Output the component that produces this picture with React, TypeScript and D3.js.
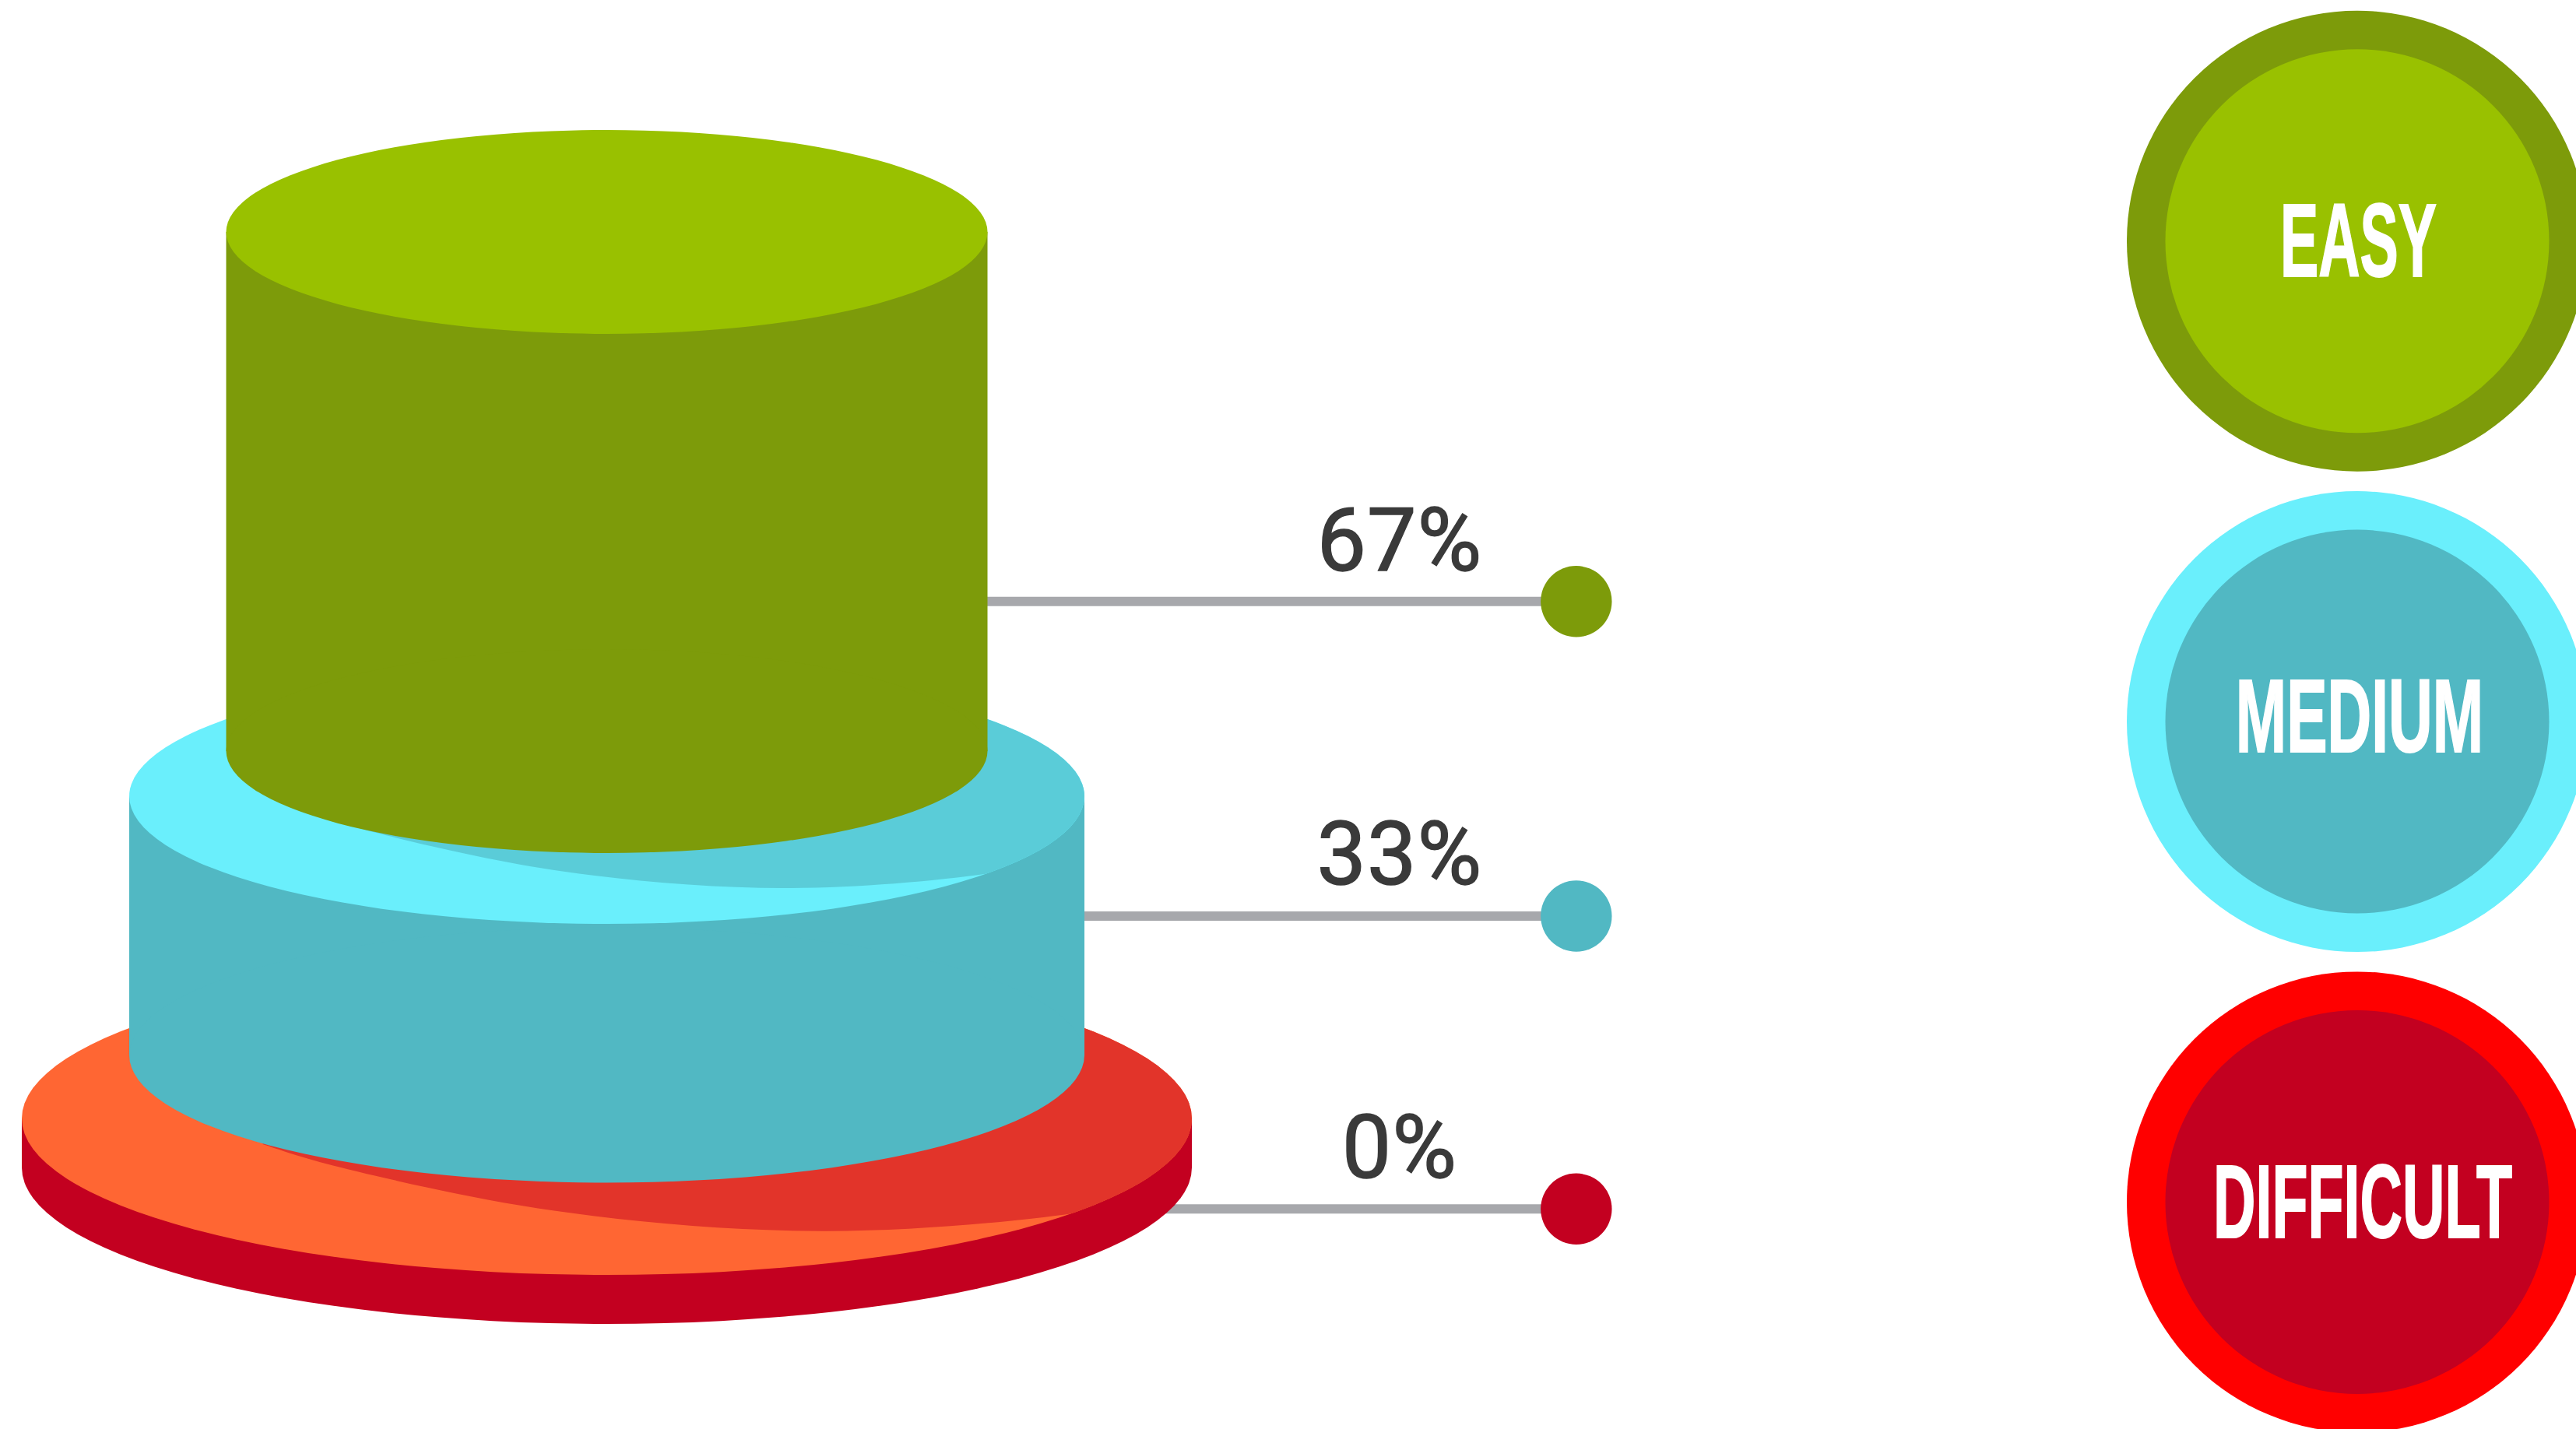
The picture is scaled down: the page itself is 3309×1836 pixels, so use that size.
import React, { useEffect, useRef } from 'react';
import * as d3 from 'd3';

// bottom tier first, the way the stack is painted
const levels = ['Difficult', 'Medium', 'Easy'];
const shares = [0, 33, 67];
const legendOrder = ['EASY', 'MEDIUM', 'DIFFICULT'];

const sideColors = ['#c30020', '#51b8c3', '#7d9b0a'];
const topColors = ['#ff6633', '#6aeffc', '#99c100'];
const shadowColors = ['#e2342a', '#5accd8', null];
const ringColors = ['#ff0000', '#6aeffc', '#7d9b0a'];
const innerColors = ['#c30020', '#51b8c3', '#99c100'];

const WIDTH = 3309;
const HEIGHT = 1836;
const CX = 779.5;

// geometry of each tier, same order as levels
const baseY = [1500, 1355.5, 965];
const radiusX = [751.5, 613.5, 489];
const radiusY = [201, 164, 131];
const connectorY = [1553.3, 1177, 772.8];
const labelBaseline = [1513, 1136, 733];

// legend text boxes, same order as legendOrder
const legendTextCx = [3029.5, 3031, 3035];
const legendTextWidth = [201, 318.5, 384];
const legendTextBaseline = [355, 966, 1589.5];

// cast shadow edge on a disc, in units of the disc radii
const shadowEdge: [number, number][] = [
  [-0.588, 0.164],
  [-0.482, 0.287],
  [-0.09, 0.59],
  [0.37, 0.72],
  [0.797, 0.607],
  [1.0, 0.45]
];

const App: React.FC = () => {
  const svgRef = useRef<SVGSVGElement>(null);

  useEffect(() => {
    if (!svgRef.current) return;

    const svg = d3.select(svgRef.current);
    svg.selectAll('*').remove();

    // Scales
    const heightScale = d3.scaleLinear().domain([0, 33, 67]).range([63, 332.5, 667]);
    const legendY = d3.scalePoint().domain(legendOrder).range([309.8, 1544.4]);

    const tiers = levels.map((level, i) => ({
      level,
      share: shares[i],
      base: baseY[i],
      top: baseY[i] - heightScale(shares[i]),
      rx: radiusX[i],
      ry: radiusY[i],
      i
    }));

    // Connectors go under the stack
    const dotX = 2024.8;
    svg.selectAll('.connector')
      .data(tiers)
      .enter()
      .append('line')
      .attr('x1', CX)
      .attr('x2', dotX)
      .attr('y1', d => connectorY[d.i])
      .attr('y2', d => connectorY[d.i])
      .attr('stroke', '#a7a8ac')
      .attr('stroke-width', 12);

    svg.selectAll('.dot')
      .data(tiers)
      .enter()
      .append('circle')
      .attr('cx', dotX)
      .attr('cy', d => connectorY[d.i])
      .attr('r', 45.7)
      .attr('fill', d => sideColors[d.i]);

    const defs = svg.append('defs');
    const edgeLine = d3.line().curve(d3.curveCatmullRom);

    // Stack
    tiers.forEach(t => {
      const g = svg.append('g').attr('transform', `translate(${CX},0)`);

      g.append('rect')
        .attr('x', -t.rx)
        .attr('y', t.top)
        .attr('width', t.rx * 2)
        .attr('height', t.base - t.top)
        .attr('fill', sideColors[t.i]);

      g.append('ellipse')
        .attr('cy', t.base)
        .attr('rx', t.rx)
        .attr('ry', t.ry)
        .attr('fill', sideColors[t.i]);

      g.append('ellipse')
        .attr('cy', t.top)
        .attr('rx', t.rx)
        .attr('ry', t.ry)
        .attr('fill', topColors[t.i]);

      const shadow = shadowColors[t.i];
      if (shadow) {
        const clipId = `disc-${t.i}`;
        defs.append('clipPath')
          .attr('id', clipId)
          .append('ellipse')
          .attr('cy', t.top)
          .attr('rx', t.rx)
          .attr('ry', t.ry);

        const pts = shadowEdge.map(([x, y]) => [x * t.rx, t.top + y * t.ry] as [number, number]);
        const first = pts[0];
        const last = pts[pts.length - 1];
        const above = t.top - t.ry * 1.2;
        g.append('path')
          .attr('clip-path', `url(#${clipId})`)
          .attr('d', `${edgeLine(pts)}L${last[0] + 50},${above}L${first[0]},${above}Z`)
          .attr('fill', shadow);
      }
    });

    // Percent labels
    svg.selectAll('.share')
      .data(tiers)
      .enter()
      .append('text')
      .attr('x', 1798)
      .attr('y', d => labelBaseline[d.i])
      .attr('text-anchor', 'middle')
      .attr('font-family', 'Roboto, sans-serif')
      .attr('font-size', 113)
      .attr('letter-spacing', 1)
      .attr('fill', '#3a3a3a')
      .attr('stroke', '#3a3a3a')
      .attr('stroke-width', 1.5)
      .text(d => `${d.share}%`);

    // Legend badges
    const legendCx = 3028;
    legendOrder.forEach((name, k) => {
      const i = levels.findIndex(l => l.toUpperCase() === name);
      const cy = legendY(name) as number;

      svg.append('circle')
        .attr('cx', legendCx)
        .attr('cy', cy)
        .attr('r', 296)
        .attr('fill', ringColors[i]);

      svg.append('circle')
        .attr('cx', legendCx)
        .attr('cy', cy)
        .attr('r', 246.5)
        .attr('fill', innerColors[i]);

      // no Bebas here, so thicken a narrow bold with a stroke
      svg.append('text')
        .attr('x', legendTextCx[k])
        .attr('y', legendTextBaseline[k])
        .attr('text-anchor', 'middle')
        .attr('font-family', '"Liberation Sans Narrow", "Liberation Sans", sans-serif')
        .attr('font-weight', 700)
        .attr('font-size', 134)
        .attr('textLength', legendTextWidth[k])
        .attr('lengthAdjust', 'spacingAndGlyphs')
        .attr('fill', '#ffffff')
        .attr('stroke', '#ffffff')
        .attr('stroke-width', 2)
        .text(name);
    });
  }, []);

  return (
    <svg
      ref={svgRef}
      width={WIDTH}
      height={HEIGHT}
      style={{ position: 'absolute', left: 0, top: 0, background: '#ffffff' }}
    />
  );
};

export default App;
